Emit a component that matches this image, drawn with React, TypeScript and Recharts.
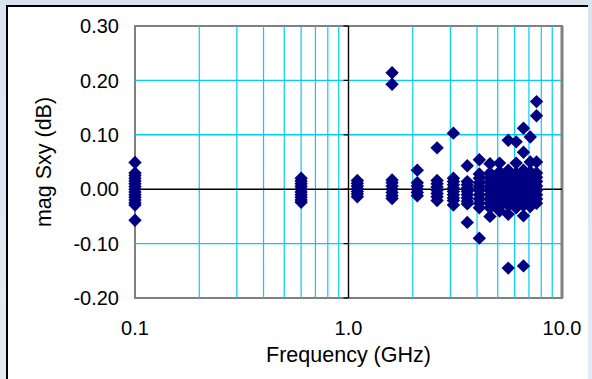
import React from 'react';
import { ScatterChart, Scatter, XAxis, YAxis, ReferenceLine, ReferenceArea } from 'recharts';

// Frequencies (GHz) at which the measurements were taken
const FREQUENCIES_GHZ = [0.1, 0.6, 1.1, 1.6, 2.1, 2.6, 3.1, 3.6, 4.1, 4.6, 5.1, 5.6, 6.1, 6.6, 7.1, 7.6];

// mag Sxy (dB) readings at each frequency
const MAG_0_1 = [0.049, 0.03, 0.025, 0.02, 0.015, 0.01, 0.005, 0, -0.005, -0.01, -0.015, -0.02, -0.025, -0.029, -0.057];
const MAG_0_6 = [0.02, 0.015, 0.01, 0.005, 0, -0.005, -0.01, -0.015, -0.02, -0.024];
const MAG_1_1 = [0.016, 0.011, 0.006, 0.001, -0.004, -0.009, -0.014];
const MAG_1_6 = [0.214, 0.193, 0.017, 0.012, 0.006, 0, -0.006, -0.012, -0.017];
const MAG_2_1 = [0.035, 0.012, 0.006, 0, -0.006, -0.012];
const MAG_2_6 = [0.076, 0.016, 0.01, 0.004, -0.002, -0.008, -0.014, -0.021];
const MAG_3_1 = [0.103, 0.02, 0.014, 0.008, 0.002, -0.004, -0.01, -0.016, -0.021, -0.029];
const MAG_3_6 = [0.043, 0.014, 0.008, 0.002, -0.004, -0.01, -0.016, -0.022, -0.027, -0.061];
const MAG_4_1 = [0.054, 0.028, 0.02, 0.012, 0.005, -0.002, -0.01, -0.018, -0.026, -0.034, -0.09];
const MAG_4_6 = [0.047, 0.03, 0.022, 0.014, 0.006, -0.002, -0.01, -0.018, -0.026, -0.034, -0.05];
const MAG_5_1 = [0.048, 0.032, 0.024, 0.016, 0.008, 0, -0.008, -0.016, -0.024, -0.032, -0.04];
const MAG_5_6 = [0.09, 0.035, 0.026, 0.018, 0.01, 0.002, -0.006, -0.014, -0.022, -0.03, -0.046, -0.145];
const MAG_6_1 = [0.087, 0.048, 0.03, 0.022, 0.014, 0.006, -0.002, -0.01, -0.018, -0.026, -0.034];
const MAG_6_6 = [0.112, 0.068, 0.035, 0.026, 0.018, 0.01, 0.002, -0.006, -0.014, -0.022, -0.03, -0.049, -0.141];
const MAG_7_1 = [0.096, 0.05, 0.032, 0.024, 0.016, 0.008, 0, -0.008, -0.016, -0.024, -0.032];
const MAG_7_6 = [0.161, 0.135, 0.05, 0.03, 0.022, 0.014, 0.006, -0.002, -0.01, -0.018, -0.026];

const MAG_BY_FREQ = [
  MAG_0_1, MAG_0_6, MAG_1_1, MAG_1_6, MAG_2_1, MAG_2_6, MAG_3_1, MAG_3_6,
  MAG_4_1, MAG_4_6, MAG_5_1, MAG_5_6, MAG_6_1, MAG_6_6, MAG_7_1, MAG_7_6,
];

// Axis ticks and grid
const X_TICKS = [0.1, 1, 10];
const Y_TICKS = [-0.2, -0.1, 0, 0.1, 0.2, 0.3];
const X_GRID = [0.2, 0.3, 0.4, 0.5, 0.6, 0.7, 0.8, 0.9, 2, 3, 4, 5, 6, 7, 8, 9];
const Y_GRID = [-0.1, 0.1, 0.2];

const X_TITLE = 'Frequency (GHz)';
const Y_TITLE = 'mag Sxy (dB)';

const data = FREQUENCIES_GHZ.flatMap((f, i) => MAG_BY_FREQ[i].map((y) => ({ x: f, y })));

const FONT = '"Liberation Sans", Arial, sans-serif';
const GRID = '#00CCFF';
const NAVY = '#000080';

const Diamond = (props: any) => {
  const { cx, cy } = props;
  if (cx == null || cy == null) return null;
  const r = 6.7;
  return (
    <path
      d={`M${cx},${cy - r}L${cx + r},${cy}L${cx},${cy + r}L${cx - r},${cy}Z`}
      fill={NAVY}
    />
  );
};

const YTitle = (props: any) => {
  const vb = props.viewBox || { x: 0, y: 26, width: 135, height: 272 };
  const cx = vb.x + 51;
  const cy = vb.y + vb.height / 2;
  return (
    <text
      x={cx}
      y={cy}
      transform={`rotate(-90 ${cx} ${cy})`}
      textAnchor="middle"
      fontFamily={FONT}
      fontSize={21.5}
      fill="#000"
    >
      {Y_TITLE}
    </text>
  );
};

const XTitle = (props: any) => {
  const vb = props.viewBox || { x: 135, y: 298, width: 427, height: 81 };
  const cx = vb.x + vb.width / 2;
  const cy = vb.y + 64;
  return (
    <text x={cx} y={cy} textAnchor="middle" fontFamily={FONT} fontSize={21.5} fill="#000">
      {X_TITLE}
    </text>
  );
};

export default function App() {
  return (
    <div
      style={{
        position: 'absolute',
        left: 0,
        top: 0,
        width: 592,
        height: 379,
        overflow: 'hidden',
        background: 'linear-gradient(180deg, #d9e3ef 0%, #e4ebf4 100%)',
      }}
    >
      <div
        style={{
          position: 'absolute',
          left: 6,
          top: 5,
          width: 580,
          height: 380,
          borderLeft: '2px solid #000',
          borderTop: '2px solid #000',
          background: '#fff',
        }}
      />
      <div style={{ position: 'absolute', left: 0, top: 0 }}>
        <ScatterChart
          width={592}
          height={379}
          margin={{ top: 26, right: 30, left: 0, bottom: 0 }}
        >
          <XAxis
            type="number"
            dataKey="x"
            scale="log"
            domain={[0.1, 10]}
            ticks={X_TICKS}
            axisLine={false}
            tickLine={false}
            tickSize={0}
            tickMargin={23}
            height={81}
            interval={0}
            tickFormatter={(v: number) => v.toFixed(1)}
            tick={{ fill: '#000', fontSize: 20, fontFamily: FONT }}
            label={{ content: XTitle }}
          />
          <YAxis
            type="number"
            dataKey="y"
            domain={[-0.2, 0.3]}
            ticks={Y_TICKS}
            axisLine={false}
            tickLine={false}
            tickSize={0}
            tickMargin={16}
            width={135}
            interval={0}
            tickFormatter={(v: number) => v.toFixed(2)}
            tick={{ fill: '#000', fontSize: 20, fontFamily: FONT }}
            label={{ content: YTitle }}
          />
          {X_GRID.map((g) => (
            <ReferenceLine key={`xg${g}`} x={g} stroke={GRID} strokeWidth={1.2} />
          ))}
          {Y_GRID.map((g) => (
            <ReferenceLine key={`yg${g}`} y={g} stroke={GRID} strokeWidth={1.4} />
          ))}
          <ReferenceArea
            x1={0.1}
            x2={10}
            y1={-0.2}
            y2={0.3}
            fill="none"
            fillOpacity={0}
            stroke="#808080"
            strokeWidth={2}
          />
          <ReferenceLine x={10} stroke="#808080" strokeWidth={3} />
          <ReferenceLine y={0} stroke="#000" strokeWidth={1.4} />
          <ReferenceLine x={1} stroke="#000" strokeWidth={1.4} />
          {Y_TICKS.map((t) => (
            <ReferenceLine
              key={`yt${t}`}
              segment={[{ x: 1 / 1.055, y: t }, { x: 1, y: t }]}
              stroke="#000"
              strokeWidth={1.2}
            />
          ))}
          <Scatter data={data} fill={NAVY} shape={Diamond} isAnimationActive={false} />
        </ScatterChart>
      </div>
    </div>
  );
}
